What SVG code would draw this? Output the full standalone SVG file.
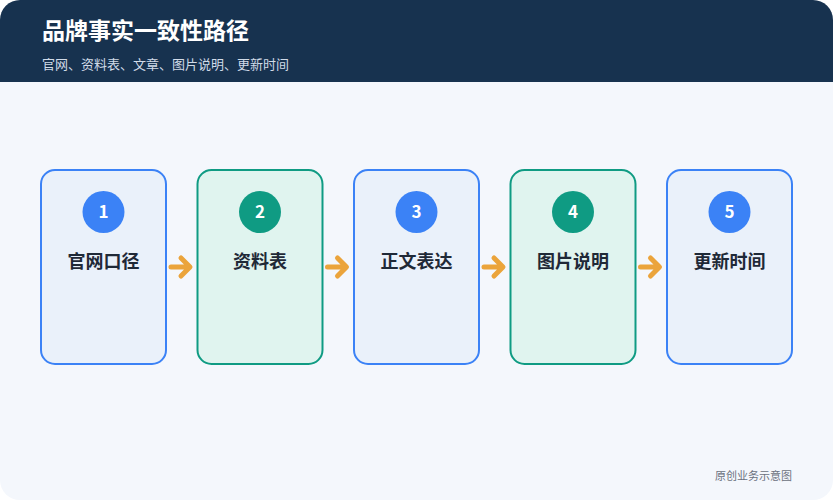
<svg xmlns="http://www.w3.org/2000/svg" width="833" height="500" viewBox="0 0 833 500">
<style>
text{font-family:"Noto Sans CJK SC","Noto Sans",sans-serif}
.t{font-size:18px;font-weight:700;fill:#1f2937;text-anchor:middle}
.n{font-size:17px;font-weight:700;fill:#fff;text-anchor:middle}
.b{fill:#eaf1fa;stroke:#3b82f6;stroke-width:2}
.g{fill:#e0f4ef;stroke:#0f9b83;stroke-width:2}
.a{fill:none;stroke:#eba43b;stroke-width:5;stroke-linecap:round;stroke-linejoin:round}
</style>
<rect width="833" height="500" fill="#fff"/>
<rect x="0" y="0" width="833" height="500" rx="20" fill="#f4f7fc"/>
<path d="M20 0H813A20 20 0 0 1 833 20V82H0V20A20 20 0 0 1 20 0Z" fill="#17324f"/>
<text x="42" y="39" font-size="23" font-weight="700" fill="#fff">品牌事实一致性路径</text>
<text x="42" y="69" font-size="13" fill="#d1dbe8">官网、资料表、文章、图片说明、更新时间</text>
<g id="connectors">
<path class="a" d="M171 267H187M181 258L190 267L181 276"/>
<path class="a" d="M327.5 267H343.5M337.5 258L346.5 267L337.5 276"/>
<path class="a" d="M484 267H500M494 258L503 267L494 276"/>
<path class="a" d="M640.5 267H656.5M650.5 258L659.5 267L650.5 276"/>
</g>
<g id="n1"><rect class="b" x="41" y="170" width="125" height="194" rx="14"/><circle cx="103.5" cy="212" r="21" fill="#3b82f6"/><text class="n" x="103.5" y="218">1</text><text class="t" x="103.5" y="268">官网口径</text></g>
<g id="n2"><rect class="g" x="197.5" y="170" width="125" height="194" rx="14"/><circle cx="260" cy="212" r="21" fill="#0f9b83"/><text class="n" x="260" y="218">2</text><text class="t" x="260" y="268">资料表</text></g>
<g id="n3"><rect class="b" x="354" y="170" width="125" height="194" rx="14"/><circle cx="416.5" cy="212" r="21" fill="#3b82f6"/><text class="n" x="416.5" y="218">3</text><text class="t" x="416.5" y="268">正文表达</text></g>
<g id="n4"><rect class="g" x="510.5" y="170" width="125" height="194" rx="14"/><circle cx="573" cy="212" r="21" fill="#0f9b83"/><text class="n" x="573" y="218">4</text><text class="t" x="573" y="268">图片说明</text></g>
<g id="n5"><rect class="b" x="667" y="170" width="125" height="194" rx="14"/><circle cx="729.5" cy="212" r="21" fill="#3b82f6"/><text class="n" x="729.5" y="218">5</text><text class="t" x="729.5" y="268">更新时间</text></g>
<text x="792" y="480" font-size="11" fill="#6b7280" text-anchor="end">原创业务示意图</text>
</svg>
